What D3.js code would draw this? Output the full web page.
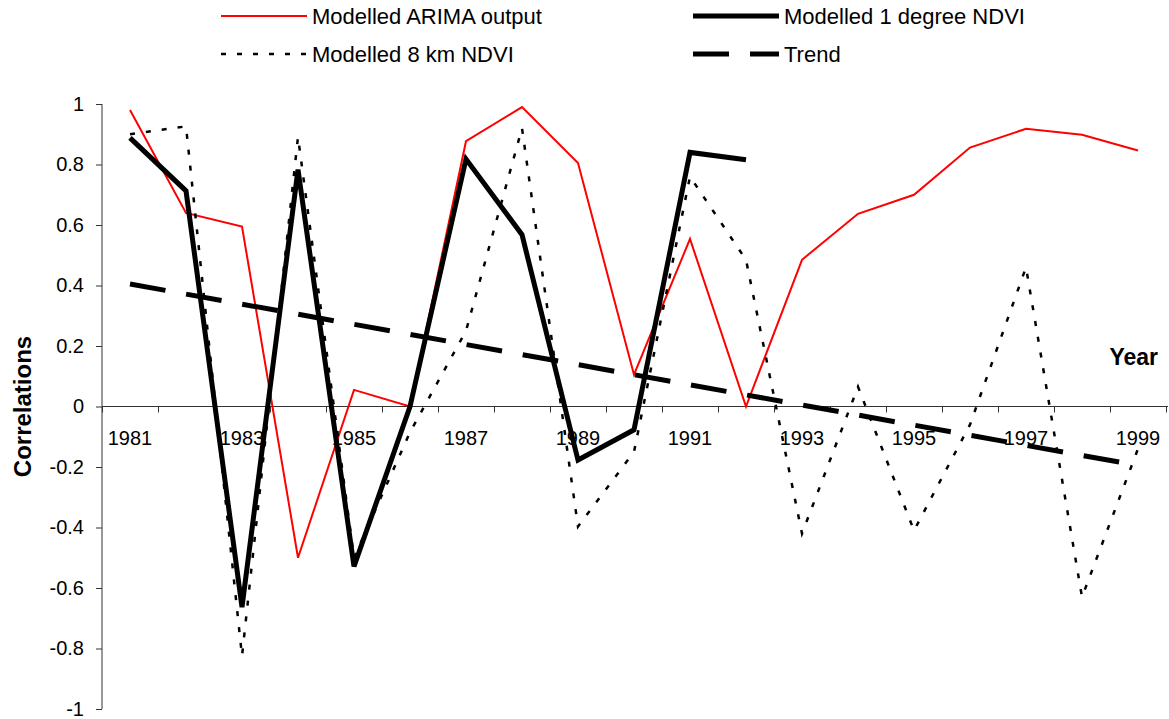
<!DOCTYPE html>
<html>
<head>
<meta charset="utf-8">
<script src="https://cdn.jsdelivr.net/npm/d3@7"></script>
<style>
  body { margin: 0; background: #fff; }
  text { font-family: Arial, "Liberation Sans", sans-serif; fill: #000; }
</style>
</head>
<body>
<svg id="chart"></svg>
<script>
const years = d3.range(1981, 2000);
const yearLabels = [1981, 1983, 1985, 1987, 1989, 1991, 1993, 1995, 1997, 1999];
const yTicks = [1, 0.8, 0.6, 0.4, 0.2, 0, -0.2, -0.4, -0.6, -0.8, -1];

const arima = [0.98, 0.64, 0.595, -0.5, 0.055, 0.0, 0.877, 0.99, 0.805, 0.105,
  0.554, 0.0, 0.485, 0.637, 0.70, 0.856, 0.918, 0.898, 0.846];
const ndvi1deg = [0.888, 0.713, -0.663, 0.783, -0.529, 0.0, 0.818, 0.568, -0.177,
  -0.077, 0.84, 0.816];
const ndvi8km = [0.90, 0.926, -0.825, 0.891, -0.50, -0.085, 0.25, 0.92, -0.397,
  -0.15, 0.76, 0.485, -0.42, 0.065, -0.41, -0.06, 0.46, -0.63, -0.14];
const trendYears = [1981, 1999];
const trend = [0.405, -0.195];

const width = 1169, height = 719;
const svg = d3.select('#chart').attr('width', width).attr('height', height);

const x = d3.scaleBand().domain(years).range([102, 1166]).padding(0);
const xc = d => x(d) + x.bandwidth() / 2;
const y = d3.scaleLinear().domain([-1, 1]).range([709, 104]);

// axes
const yAxis = svg.append('g')
  .attr('transform', 'translate(102,0)')
  .call(d3.axisLeft(y).tickValues(yTicks).tickSize(6).tickPadding(12)
    .tickFormat(d => String(+d.toFixed(1))));
yAxis.select('.domain').attr('stroke', '#333').attr('d', 'M0,104V709');
yAxis.selectAll('.tick line').attr('stroke', '#333');
yAxis.selectAll('.tick text').style('font-size', '20px').attr('fill', '#000');

const xEdges = d3.scaleLinear().domain([0, years.length]).range([102, 1166]);
const xAxis = svg.append('g')
  .attr('transform', `translate(0,${y(0)})`)
  .call(d3.axisBottom(xEdges).ticks(years.length).tickSize(6).tickFormat(''));
xAxis.select('.domain').attr('stroke', '#333').attr('d', 'M102,0H1168');
xAxis.selectAll('.tick line').attr('stroke', '#333');

svg.append('g').selectAll('text')
  .data(yearLabels)
  .join('text')
  .attr('x', d => xc(d))
  .attr('y', y(0) + 31)
  .attr('text-anchor', 'middle')
  .attr('dominant-baseline', 'central')
  .style('font-size', '20px')
  .text(d => d);

// series
const line = d3.line().x(d => xc(d[0])).y(d => y(d[1]));
const pairs = (vals, yrs = years) => vals.map((v, i) => [yrs[i], v]);

const series = [
  { name: 'Modelled ARIMA output', data: pairs(arima), stroke: '#ff0000', w: 2, dash: null },
  { name: 'Modelled 1 degree NDVI', data: pairs(ndvi1deg), stroke: '#000', w: 5, dash: null },
  { name: 'Modelled 8 km NDVI', data: pairs(ndvi8km), stroke: '#000', w: 2.5, dash: '5,11' },
  { name: 'Trend', data: pairs(trend, trendYears), stroke: '#000', w: 5, dash: '36,21' }
];

svg.append('g').selectAll('path')
  .data(series)
  .join('path')
  .attr('d', d => line(d.data))
  .attr('fill', 'none')
  .attr('stroke', d => d.stroke)
  .attr('stroke-width', d => d.w)
  .attr('stroke-dasharray', d => d.dash);

// legend
const legPos = [[221, 16], [693, 16], [221, 54], [693, 54]];
const leg = svg.append('g').selectAll('g')
  .data(series)
  .join('g')
  .attr('transform', (d, i) => `translate(${legPos[i][0]},${legPos[i][1]})`);
leg.append('line')
  .attr('x1', 0).attr('x2', 86)
  .attr('stroke', d => d.stroke)
  .attr('stroke-width', d => d.w)
  .attr('stroke-dasharray', d => d.dash);
leg.append('text')
  .attr('x', 91)
  .attr('dominant-baseline', 'central')
  .style('font-size', '22px')
  .text(d => d.name);

// axis titles
svg.append('text')
  .attr('transform', `translate(22,${(y(1) + y(-1)) / 2}) rotate(-90)`)
  .attr('text-anchor', 'middle')
  .attr('dominant-baseline', 'central')
  .style('font-size', '24px')
  .style('font-weight', 'bold')
  .text('Correlations');
svg.append('text')
  .attr('x', 1158).attr('y', 357)
  .attr('text-anchor', 'end')
  .attr('dominant-baseline', 'central')
  .style('font-size', '23px')
  .style('font-weight', 'bold')
  .text('Year');
</script>
</body>
</html>
